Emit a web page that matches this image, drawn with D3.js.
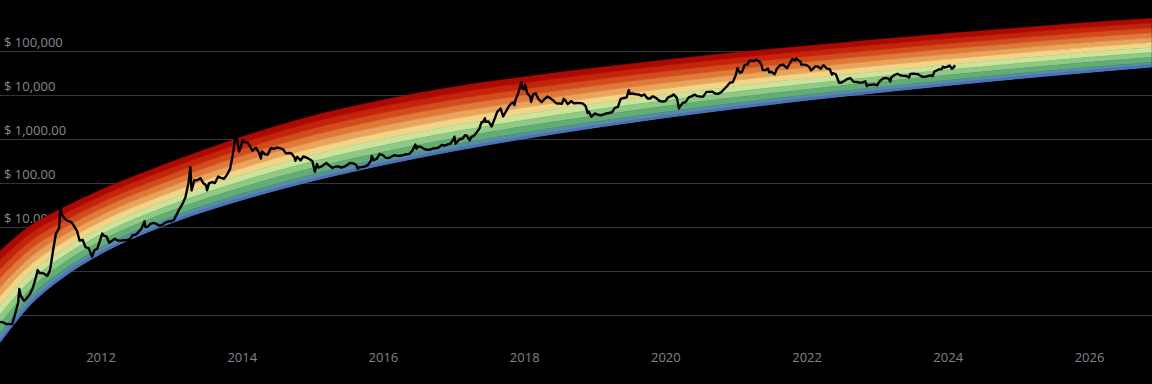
<!DOCTYPE html>
<html>
<head>
<meta charset="utf-8">
<script src="https://cdn.jsdelivr.net/npm/d3@7"></script>
<style>
  html, body { margin: 0; padding: 0; background: #000; }
  svg { display: block; }
</style>
</head>
<body>
<svg id="chart"></svg>
<script>
// price axis ticks (the two lowest lines carry no visible label)
const yTicks = [100000, 10000, 1000, 100, 10, 1, 0.1];
const yTickLabels = ['$ 100,000', '$ 10,000', '$ 1,000.00', '$ 100.00', '$ 10.00', '', ''];
const xTickYears = [2012, 2014, 2016, 2018, 2020, 2022, 2024, 2026];

// rainbow edges
const bandDates = ['2010-07-30', '2011-01-01', '2011-07-01', '2012-01-01', '2013-01-01', '2014-01-01', '2015-01-01',
  '2016-01-01', '2017-01-01', '2018-01-01', '2019-01-01', '2020-01-01', '2021-01-01', '2022-01-01',
  '2023-01-01', '2024-01-01', '2025-01-01', '2026-01-01', '2026-11-21'];
const bandBottom = [0.0243, 0.169, 0.77, 2.43, 12.3, 41, 111, 256, 534, 1015, 1805, 3050, 4910, 7590,
  11300, 16500, 23600, 32800, 43300];
const bandTop = [2.85, 10.5, 28.5, 69, 300, 1110, 3330, 7700, 15200, 25700, 41100, 62400, 92500, 130000,
  182000, 250000, 333000, 445000, 548000];
const bandColors = ['#ad0903', '#c4240c', '#d34b1c', '#df7838', '#eaa35b', '#f3d386',
  '#cbe39a', '#8fca84', '#62ac76', '#55909a'];

// BTC close
const btcPrice = [
  ['2010-07-30', 0.07], ['2010-08-15', 0.068], ['2010-09-01', 0.062], ['2010-09-15', 0.062], ['2010-10-01', 0.062],
  ['2010-10-15', 0.10], ['2010-11-01', 0.19], ['2010-11-07', 0.39], ['2010-11-15', 0.27], ['2010-12-01', 0.21],
  ['2010-12-15', 0.24], ['2011-01-01', 0.30], ['2011-01-15', 0.40], ['2011-02-01', 0.72], ['2011-02-10', 1.05],
  ['2011-02-20', 0.90], ['2011-03-01', 0.90], ['2011-03-15', 0.87], ['2011-04-01', 0.78], ['2011-04-15', 1.05],
  ['2011-05-01', 3.0], ['2011-05-15', 7.0], ['2011-06-01', 9.5], ['2011-06-08', 29.6], ['2011-06-15', 19],
  ['2011-07-01', 15.4], ['2011-07-15', 13.8], ['2011-08-01', 13.1], ['2011-08-15', 10.9], ['2011-09-01', 8.2],
  ['2011-09-15', 4.9], ['2011-10-01', 5.1], ['2011-10-15', 3.5], ['2011-11-01', 3.3], ['2011-11-18', 2.1],
  ['2011-12-01', 3.0], ['2011-12-15', 3.2], ['2012-01-01', 5.3], ['2012-01-10', 7.1], ['2012-01-20', 6.3],
  ['2012-02-01', 6.1], ['2012-02-15', 4.4], ['2012-03-01', 4.9], ['2012-03-15', 5.4], ['2012-04-01', 4.9],
  ['2012-04-15', 4.9], ['2012-05-01', 5.0], ['2012-05-15', 5.0], ['2012-06-01', 5.3], ['2012-06-15', 6.5],
  ['2012-07-01', 6.7], ['2012-07-15', 7.6], ['2012-08-01', 9.3], ['2012-08-16', 13.5], ['2012-08-20', 10],
  ['2012-09-01', 10.1], ['2012-09-15', 11.8], ['2012-10-01', 12.4], ['2012-10-15', 11.8], ['2012-11-01', 10.6],
  ['2012-11-15', 11.1], ['2012-12-01', 12.6], ['2012-12-15', 13.3], ['2013-01-01', 13.5], ['2013-01-15', 14.5],
  ['2013-02-01', 20.4], ['2013-02-15', 27], ['2013-03-01', 34], ['2013-03-15', 47], ['2013-04-01', 104],
  ['2013-04-10', 230], ['2013-04-16', 68], ['2013-05-01', 116], ['2013-05-15', 115], ['2013-06-01', 129],
  ['2013-06-15', 100], ['2013-07-01', 88], ['2013-07-05', 68], ['2013-07-15', 98], ['2013-08-01', 105],
  ['2013-08-15', 100], ['2013-09-01', 140], ['2013-09-15', 131], ['2013-10-01', 125], ['2013-10-15', 150],
  ['2013-11-01', 206], ['2013-11-15', 430], ['2013-11-30', 1150], ['2013-12-05', 1140], ['2013-12-18', 520],
  ['2013-12-31', 750], ['2014-01-05', 950], ['2014-01-15', 850], ['2014-02-01', 830], ['2014-02-15', 650],
  ['2014-02-25', 540], ['2014-03-01', 560], ['2014-03-15', 635], ['2014-04-01', 480], ['2014-04-10', 360],
  ['2014-04-15', 520], ['2014-05-01', 450], ['2014-05-15', 440], ['2014-05-31', 620], ['2014-06-15', 600],
  ['2014-07-01', 640], ['2014-07-15', 620], ['2014-08-01', 590], ['2014-08-18', 470], ['2014-09-01', 480],
  ['2014-09-15', 470], ['2014-10-01', 380], ['2014-10-05', 320], ['2014-10-15', 395], ['2014-11-01', 325],
  ['2014-11-15', 400], ['2014-12-01', 380], ['2014-12-15', 350], ['2015-01-01', 315], ['2015-01-14', 180],
  ['2015-01-25', 270], ['2015-02-01', 225], ['2015-02-15', 235], ['2015-03-01', 260], ['2015-03-15', 285],
  ['2015-04-01', 245], ['2015-04-15', 220], ['2015-05-01', 235], ['2015-05-15', 237], ['2015-06-01', 225],
  ['2015-06-15', 235], ['2015-07-01', 258], ['2015-07-15', 285], ['2015-08-01', 280], ['2015-08-15', 260],
  ['2015-08-24', 210], ['2015-09-01', 228], ['2015-09-15', 230], ['2015-10-01', 237], ['2015-10-15', 255],
  ['2015-11-01', 325], ['2015-11-04', 410], ['2015-11-15', 330], ['2015-12-01', 360], ['2015-12-15', 455],
  ['2016-01-01', 430], ['2016-01-15', 375], ['2016-02-01', 370], ['2016-02-15', 400], ['2016-03-01', 430],
  ['2016-03-15', 415], ['2016-04-01', 417], ['2016-04-15', 430], ['2016-05-01', 450], ['2016-05-15', 455],
  ['2016-06-01', 535], ['2016-06-17', 750], ['2016-06-23', 600], ['2016-07-01', 680], ['2016-07-15', 660],
  ['2016-08-01', 600], ['2016-08-15', 570], ['2016-09-01', 575], ['2016-09-15', 608], ['2016-10-01', 615],
  ['2016-10-15', 640], ['2016-11-01', 730], ['2016-11-15', 710], ['2016-12-01', 755], ['2016-12-15', 780],
  ['2017-01-01', 1000], ['2017-01-05', 1130], ['2017-01-11', 780], ['2017-01-15', 820], ['2017-02-01', 990],
  ['2017-02-15', 1010], ['2017-03-01', 1220], ['2017-03-10', 1190], ['2017-03-25', 930], ['2017-04-01', 1090],
  ['2017-04-15', 1180], ['2017-05-01', 1420], ['2017-05-15', 1740], ['2017-05-25', 2400], ['2017-06-01', 2400],
  ['2017-06-12', 2950], ['2017-06-15', 2450], ['2017-07-01', 2500], ['2017-07-16', 1930], ['2017-08-01', 2870],
  ['2017-08-15', 4200], ['2017-09-01', 4900], ['2017-09-14', 3250], ['2017-10-01', 4400], ['2017-10-15', 5700],
  ['2017-11-01', 6750], ['2017-11-12', 5900], ['2017-11-15', 7300], ['2017-12-01', 10900], ['2017-12-17', 19500],
  ['2017-12-22', 14000], ['2018-01-01', 13500], ['2018-01-06', 17100], ['2018-01-17', 11000], ['2018-02-01', 9100],
  ['2018-02-06', 6900], ['2018-02-15', 10200], ['2018-03-01', 10900], ['2018-03-15', 8200], ['2018-04-01', 6900],
  ['2018-04-15', 8000], ['2018-05-01', 9200], ['2018-05-15', 8500], ['2018-06-01', 7500], ['2018-06-15', 6500],
  ['2018-07-01', 6400], ['2018-07-15', 6300], ['2018-07-25', 8200], ['2018-08-01', 7600], ['2018-08-14', 6200],
  ['2018-09-01', 7200], ['2018-09-15', 6500], ['2018-10-01', 6600], ['2018-10-15', 6600], ['2018-11-01', 6350],
  ['2018-11-15', 5600], ['2018-11-25', 3900], ['2018-12-01', 4200], ['2018-12-15', 3200], ['2019-01-01', 3800],
  ['2019-01-15', 3600], ['2019-02-01', 3450], ['2019-02-15', 3600], ['2019-03-01', 3800], ['2019-03-15', 3900],
  ['2019-04-01', 4100], ['2019-04-15', 5100], ['2019-05-01', 5350], ['2019-05-15', 8200], ['2019-06-01', 8550],
  ['2019-06-15', 8800], ['2019-06-26', 12900], ['2019-07-01', 10600], ['2019-07-15', 10800], ['2019-08-01', 10400],
  ['2019-08-15', 10300], ['2019-09-01', 9600], ['2019-09-15', 10300], ['2019-10-01', 8300], ['2019-10-15', 8300],
  ['2019-10-26', 9300], ['2019-11-01', 9200], ['2019-11-15', 8500], ['2019-12-01', 7400], ['2019-12-15', 7100],
  ['2020-01-01', 7200], ['2020-01-15', 8800], ['2020-02-01', 9400], ['2020-02-13', 10300], ['2020-03-01', 8600],
  ['2020-03-12', 4900], ['2020-03-15', 5400], ['2020-04-01', 6600], ['2020-04-15', 6900], ['2020-05-01', 8800],
  ['2020-05-15', 9300], ['2020-06-01', 10200], ['2020-06-15', 9400], ['2020-07-01', 9200], ['2020-07-15', 9200],
  ['2020-08-01', 11800], ['2020-08-15', 11800], ['2020-09-01', 11900], ['2020-09-15', 10800], ['2020-10-01', 10600],
  ['2020-10-15', 11500], ['2020-11-01', 13700], ['2020-11-15', 15800], ['2020-12-01', 19200], ['2020-12-15', 19400],
  ['2021-01-01', 29400], ['2021-01-08', 40600], ['2021-01-22', 32000], ['2021-02-01', 33500], ['2021-02-15', 48500],
  ['2021-03-01', 49600], ['2021-03-13', 61000], ['2021-04-01', 59000], ['2021-04-14', 63500], ['2021-05-01', 57800],
  ['2021-05-12', 49200], ['2021-05-19', 37000], ['2021-06-01', 36700], ['2021-06-15', 40200], ['2021-06-22', 32500],
  ['2021-07-01', 33500], ['2021-07-20', 29800], ['2021-08-01', 39900], ['2021-08-15', 47000], ['2021-09-01', 48800],
  ['2021-09-07', 46800], ['2021-09-21', 40500], ['2021-10-01', 48100], ['2021-10-20', 65900], ['2021-11-01', 61000],
  ['2021-11-09', 67500], ['2021-11-15', 63500], ['2021-12-01', 57000], ['2021-12-04', 49000], ['2021-12-15', 48900],
  ['2022-01-01', 47700], ['2022-01-15', 43000], ['2022-01-24', 36300], ['2022-02-01', 38700], ['2022-02-15', 44500],
  ['2022-03-01', 44400], ['2022-03-15', 39300], ['2022-03-29', 47400], ['2022-04-01', 46300], ['2022-04-15', 40500],
  ['2022-05-01', 38500], ['2022-05-12', 29000], ['2022-05-15', 31300], ['2022-06-01', 29800], ['2022-06-18', 19000],
  ['2022-07-01', 19300], ['2022-07-15', 20800], ['2022-08-01', 23300], ['2022-08-15', 24300], ['2022-09-01', 20000],
  ['2022-09-15', 19700], ['2022-10-01', 19300], ['2022-10-15', 19100], ['2022-11-01', 20500], ['2022-11-09', 15900],
  ['2022-11-15', 16900], ['2022-12-01', 17000], ['2022-12-15', 17400], ['2023-01-01', 16600], ['2023-01-15', 20900],
  ['2023-02-01', 23700], ['2023-02-15', 24300], ['2023-03-01', 23600], ['2023-03-10', 20200], ['2023-03-15', 24900],
  ['2023-04-01', 28500], ['2023-04-15', 30400], ['2023-05-01', 28100], ['2023-05-15', 27200], ['2023-06-01', 27000],
  ['2023-06-15', 25100], ['2023-06-22', 30000], ['2023-07-01', 30600], ['2023-07-15', 30300], ['2023-08-01', 29700],
  ['2023-08-17', 26600], ['2023-09-01', 25900], ['2023-09-15', 26600], ['2023-10-01', 27900], ['2023-10-15', 27000],
  ['2023-10-25', 34500], ['2023-11-01', 35400], ['2023-11-15', 37900], ['2023-12-01', 38700], ['2023-12-08', 44000],
  ['2023-12-15', 42000], ['2024-01-01', 44200], ['2024-01-11', 46600], ['2024-01-23', 39500], ['2024-02-01', 43000],
  ['2024-02-09', 47100]
];

const width = 1152, height = 384;
const plotBottom = 346;

const svg = d3.select('#chart')
  .attr('width', width)
  .attr('height', height)
  .style('background', '#000');

const parse = d3.utcParse('%Y-%m-%d');

const x = d3.scaleUtc()
  .domain([new Date(Date.UTC(2012, 0, 1)), new Date(Date.UTC(2026, 0, 1))])
  .range([100.5, 1089]);
const y = d3.scaleLog()
  .domain([0.1, 100000])
  .range([315, 51]);

svg.append('clipPath').attr('id', 'plot-clip')
  .append('rect').attr('x', 0).attr('y', 0).attr('width', width).attr('height', plotBottom);

// gridlines + price labels (sit underneath the rainbow)
const yAxisG = svg.append('g')
  .call(d3.axisRight(y).tickValues(yTicks).tickSize(width).tickFormat((d, i) => yTickLabels[i]));
yAxisG.select('.domain').remove();
yAxisG.selectAll('.tick line').attr('stroke', '#333538').attr('stroke-width', 1);
yAxisG.selectAll('.tick text')
  .attr('x', 4)
  .attr('dy', -5)
  .attr('text-anchor', 'start')
  .attr('fill', '#878b94')
  .style('font-family', '"Open Sans", sans-serif')
  .style('font-size', '13px');

// rainbow bands
const plot = svg.append('g').attr('clip-path', 'url(#plot-clip)');
const nb = bandColors.length;
const bandRows = bandDates.map((d, i) => ({ date: parse(d), lo: bandBottom[i], hi: bandTop[i] }));
const edge = (r, k) => r.lo * Math.pow(r.hi / r.lo, k / nb);

bandColors.forEach((c, i) => {
  const k = nb - 1 - i; // colour 0 is the top band
  const area = d3.area()
    .curve(d3.curveMonotoneX)
    .x(r => x(r.date))
    .y0(r => y(edge(r, k)))
    .y1(r => y(edge(r, k + 1)));
  plot.append('path')
    .datum(bandRows)
    .attr('d', area)
    .attr('fill', c)
    .attr('stroke', c)
    .attr('stroke-width', 0.6);
});

// thin blue rim along the bottom of the rainbow
plot.append('path')
  .datum(bandRows)
  .attr('d', d3.line().curve(d3.curveMonotoneX).x(r => x(r.date)).y(r => y(r.lo) - 1.2))
  .attr('fill', 'none')
  .attr('stroke', '#4c6fc3')
  .attr('stroke-width', 2.6);

// price line
plot.append('path')
  .datum(btcPrice.map(([d, v]) => ({ date: parse(d), v })))
  .attr('d', d3.line().x(p => x(p.date)).y(p => y(p.v)))
  .attr('fill', 'none')
  .attr('stroke', '#000')
  .attr('stroke-width', 2.4)
  .attr('stroke-linejoin', 'round');

// year labels
const xAxisG = svg.append('g')
  .attr('transform', 'translate(0,350)')
  .call(d3.axisBottom(x)
    .tickValues(xTickYears.map(yr => new Date(Date.UTC(yr, 0, 1))))
    .tickSize(0)
    .tickFormat(d3.utcFormat('%Y')));
xAxisG.select('.domain').remove();
xAxisG.selectAll('.tick text')
  .attr('fill', '#80848d')
  .style('font-family', '"Open Sans", sans-serif')
  .style('font-size', '13px');
</script>
</body>
</html>
